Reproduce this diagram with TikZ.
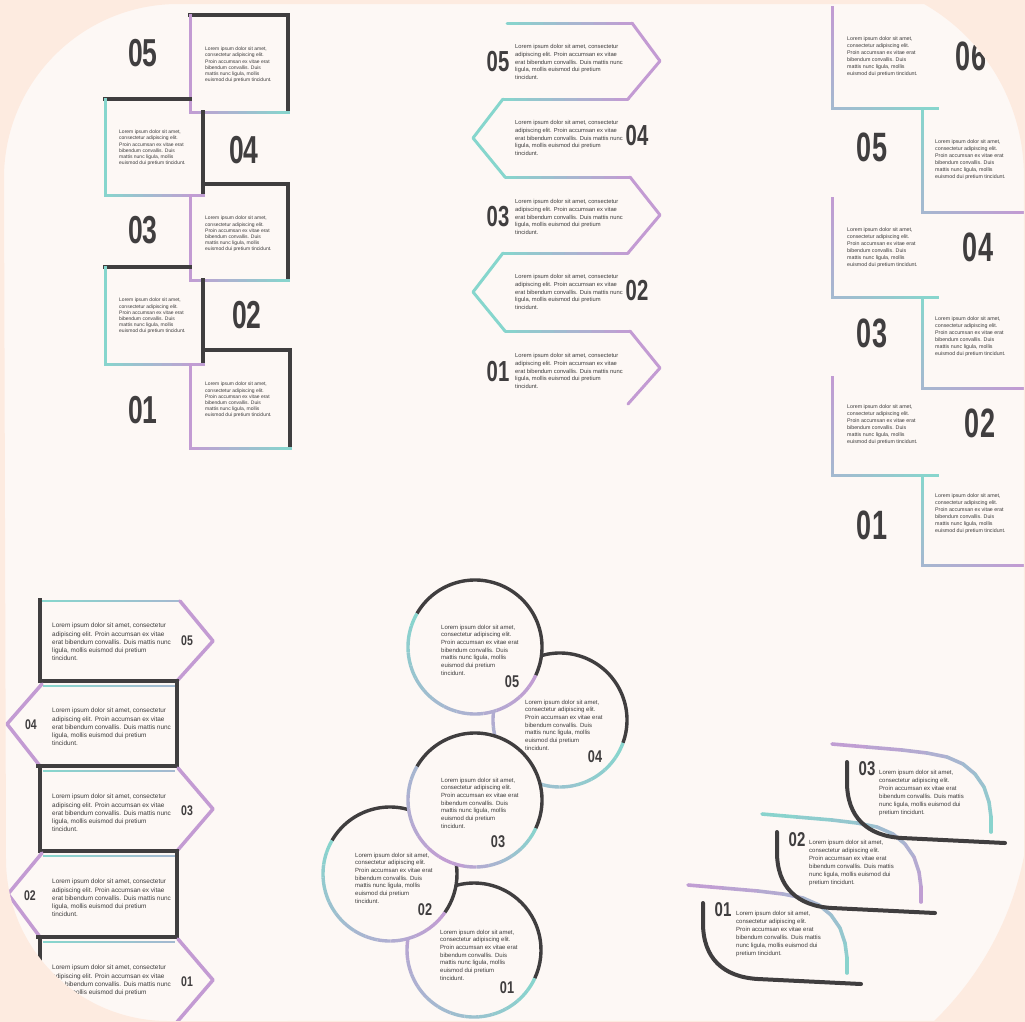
\documentclass[tikz,border=0pt]{standalone}
\usepackage{fontspec}
\setmainfont{Liberation Sans}
\usepackage{graphicx}
\usetikzlibrary{calc}
\definecolor{peach}{HTML}{FDEBE0}
\definecolor{cream}{HTML}{FDF8F5}
\definecolor{tea}{HTML}{86D6CD}
\definecolor{lil}{HTML}{C39BD3}
\definecolor{drk}{HTML}{403E3F}
\definecolor{txt}{HTML}{3C3B3B}
\colorlet{lav}{tea!50!lil}
\newcommand\bnum[3]{\scalebox{#2}[1]{\fontsize{#1}{#1}\selectfont\bfseries #3}}
% gradient straight segment: [opts]{A}{B}{colA}{colB}
\newcommand\gseg[5][]{%
  \foreach \gk in {0,...,9}{%
    \pgfmathsetmacro\gta{\gk/10}%
    \pgfmathsetmacro\gtb{(\gk+1)/10}%
    \pgfmathtruncatemacro\gtc{10*\gk+5}%
    \draw[#1,draw=#5!\gtc!#4] ($#2!\gta!#3$) -- ($#2!\gtb!#3$);%
  }}
% gradient arc: [opts]{center}{r}{a1}{a2}{colA}{colB}{N}
\newcommand\garc[8][]{%
  \foreach \gk in {1,...,#8}{%
    \pgfmathsetmacro\gaa{#4+(\gk-1)*(#5-(#4))/#8}%
    \pgfmathsetmacro\gab{#4+\gk*(#5-(#4))/#8}%
    \pgfmathtruncatemacro\gac{100*(\gk-0.5)/#8}%
    \draw[#1,draw=#7!\gac!#6] ($#2+(\gaa:#3)$) arc[start angle=\gaa,end angle=\gab,radius=#3];%
  }}
\newcommand\swtop[4]{%
  \begin{scope}[shift={(#1,-#2)}]
  \foreach \ax/\ay/\bx/\by/\sk in {-15/18/20/15/0,20/15/55/12/1,55/12/80/9/2,80/9/100/5/3,100/5/116/-2/4,116/-2/128/-12/5,128/-12/137/-25/6,137/-25/142/-40/7,142/-40/144/-55/8,144/-55/144/-70/9}{%
    \pgfmathtruncatemacro\swk{10*\sk+5}%
    \draw[swc,draw=#4!\swk!#3] (\ax,\ay) -- (\bx,\by);}
  \end{scope}}
\newcommand\swdark[2]{\draw[swd,shift={(#1,-#2)}] (0,0) -- (0,-20) .. controls (0,-55) and (20,-74) .. (55,-76) -- (158,-81);}
\def\loremA{Lorem ipsum dolor sit amet,\\consectetur adipiscing elit.\\Proin accumsan ex vitae erat\\bibendum convallis. Duis\\mattis nunc ligula, mollis\\euismod dui pretium tincidunt.}
\def\loremB{Lorem ipsum dolor sit amet, consectetur\\adipiscing elit. Proin accumsan ex vitae\\erat bibendum convallis. Duis mattis nunc\\ligula, mollis euismod dui pretium\\tincidunt.}
\def\loremE{Lorem ipsum dolor sit amet,\\consectetur adipiscing elit.\\Proin accumsan ex vitae erat\\bibendum convallis. Duis\\mattis nunc ligula, mollis\\euismod dui pretium\\tincidunt.}
\def\loremF{Lorem ipsum dolor sit amet,\\consectetur adipiscing elit.\\Proin accumsan ex vitae erat\\bibendum convallis. Duis mattis\\nunc ligula, mollis euismod dui\\pretium tincidunt.}
\begin{document}
\begin{tikzpicture}[x=1pt,y=1pt,
  dkA/.style={line width=3.6,draw=drk,line cap=rect,line join=miter},
  lA/.style={line width=3,line cap=rect},
  lB/.style={line width=3,line cap=round,line join=round},
  lC/.style={line width=3,line cap=rect},
  dkD/.style={line width=4.5,draw=drk,line cap=rect,line join=miter},
  tD/.style={line width=2.5},
  pD/.style={line width=3.5,draw=lil,line cap=round,line join=round},
  circ/.style={line width=3.4},
  swc/.style={line width=3.6,line cap=round},
  swd/.style={line width=4,draw=drk,line cap=round},
  num/.style={text=drk,inner sep=0},
  txA/.style={font=\fontsize{5}{6.2}\selectfont,align=left,anchor=west,inner sep=0,text=txt},
  txB/.style={font=\fontsize{5.8}{7.6}\selectfont,align=left,anchor=west,inner sep=0,text=txt},
  txC/.style={font=\fontsize{5.3}{7}\selectfont,align=left,anchor=west,inner sep=0,text=txt},
  txD/.style={font=\fontsize{6.4}{8.2}\selectfont,align=left,anchor=west,inner sep=0,text=txt},
  txE/.style={font=\fontsize{6}{7.7}\selectfont,align=left,anchor=west,inner sep=0,text=txt},
  txF/.style={font=\fontsize{6}{8}\selectfont,align=left,anchor=west,inner sep=0,text=txt}]
\useasboundingbox (0,0) rectangle (1025,-1021);
\fill[cream] (0,0) rectangle (1025,-1021);

% ================= Panel A (top left) =================
\draw[dkA] (190,-15) -- (288,-15) -- (288,-112);
\draw[lA,draw=lil] (190,-15) -- (190,-112);
\gseg[lA]{(190,-112)}{(288,-112)}{lil}{tea}
\draw[dkA] (105,-99) -- (190,-99);
\draw[dkA] (203,-112) -- (203,-195);
\draw[lA,draw=tea] (105,-99) -- (105,-195);
\gseg[lA]{(105,-195)}{(203,-195)}{tea}{lil}
\draw[dkA] (203,-184) -- (288,-184) -- (288,-280);
\draw[lA,draw=lil] (190,-195) -- (190,-280);
\gseg[lA]{(190,-280)}{(288,-280)}{lil}{tea}
\draw[dkA] (105,-267) -- (190,-267);
\draw[dkA] (203,-280) -- (203,-364);
\draw[lA,draw=tea] (105,-267) -- (105,-364);
\gseg[lA]{(105,-364)}{(203,-364)}{tea}{lil}
\draw[dkA] (203,-350) -- (290,-350) -- (290,-448);
\draw[lA,draw=lil] (190,-364) -- (190,-448);
\gseg[lA]{(190,-448)}{(290,-448)}{lil}{tea}
\node[num] (nA5) at (143,-53) {\bnum{39}{0.68}{05}};
\node[num] (nA4) at (244,-150) {\bnum{39}{0.68}{04}};
\node[num] (nA3) at (143,-230) {\bnum{39}{0.68}{03}};
\node[num] (nA2) at (247,-315) {\bnum{39}{0.68}{02}};
\node[num] (nA1) at (143,-410) {\bnum{39}{0.68}{01}};
\node[txA] (tA5) at (205,-65) {\loremA};
\node[txA] (tA4) at (119,-148) {\loremA};
\node[txA] (tA3) at (205,-234) {\loremA};
\node[txA] (tA2) at (119,-316) {\loremA};
\node[txA] (tA1) at (205,-400) {\loremA};

% ================= Panel B (top middle) =================
\foreach \xa/\xb/\yy in {507/632/23,503/628/99,505/630/177,503/628/253,505/630/331}{%
  \gseg[lB]{(\xa,-\yy)}{(\xb,-\yy)}{tea}{lil}}
\draw[lB,draw=lil] (632,-23) -- (660,-61) -- (628,-99);
\draw[lB,draw=lil] (630,-177) -- (660,-215) -- (628,-253);
\draw[lB,draw=lil] (630,-331) -- (660,-368) -- (628,-404);
\draw[lB,draw=tea] (503,-99) -- (473,-138) -- (505,-177);
\draw[lB,draw=tea] (503,-253) -- (473,-292) -- (505,-331);
\node[num] (nB5) at (498,-62) {\bnum{29}{0.7}{05}};
\node[num] (nB4) at (637,-136) {\bnum{29}{0.7}{04}};
\node[num] (nB3) at (498,-217) {\bnum{29}{0.7}{03}};
\node[num] (nB2) at (637,-291) {\bnum{29}{0.7}{02}};
\node[num] (nB1) at (498,-372) {\bnum{29}{0.7}{01}};
\node[txB] (tB5) at (515,-62) {\loremB};
\node[txB] (tB4) at (515,-138) {\loremB};
\node[txB] (tB3) at (515,-217) {\loremB};
\node[txB] (tB2) at (515,-292) {\loremB};
\node[txB] (tB1) at (515,-371) {\loremB};

% ================= Panel C (top right) =================
\foreach \ta/\tb in {7/108,198/297,377/475}{%
  \gseg[lC]{(832,-\ta)}{(832,-\tb)}{lil}{lav}
  \gseg[lC]{(832,-\tb)}{(937,-\tb)}{lav}{tea}}
\foreach \ta/\tb in {108/212,297/388,475/565}{%
  \gseg[lC]{(922,-\ta)}{(922,-\tb)}{tea}{lav}
  \gseg[lC]{(922,-\tb)}{(1025,-\tb)}{lav}{lil}}
\node[num] (nC6) at (971,-56) {\bnum{41}{0.66}{06}};
\node[num] (nC5) at (872,-147) {\bnum{41}{0.66}{05}};
\node[num] (nC4) at (978,-247) {\bnum{41}{0.66}{04}};
\node[num] (nC3) at (872,-333) {\bnum{41}{0.66}{03}};
\node[num] (nC2) at (980,-423) {\bnum{41}{0.66}{02}};
\node[num] (nC1) at (872,-525) {\bnum{41}{0.66}{01}};
\node[txC] (tC6) at (847,-57) {\loremA};
\node[txC] (tC5) at (935,-160) {\loremA};
\node[txC] (tC4) at (847,-248) {\loremA};
\node[txC] (tC3) at (935,-337) {\loremA};
\node[txC] (tC2) at (847,-425) {\loremA};
\node[txC] (tC1) at (935,-514) {\loremA};

% ================= Panel D (bottom left) =================
% box 05 (right arrow)
\gseg[tD]{(42,-601)}{(180,-601)}{tea}{lav}
\draw[pD] (180,-601) -- (213,-641) -- (177,-681);
\draw[dkD] (40,-600) -- (40,-681) -- (177,-681);
% box 04 (left arrow)
\gseg[tD]{(43,-686)}{(175,-686)}{tea}{lav}
\draw[pD] (42,-684) -- (7,-724) -- (40,-766);
\draw[dkD] (177,-681) -- (177,-766) -- (38,-766);
% box 03 (right arrow)
\gseg[tD]{(43,-771)}{(175,-771)}{tea}{lav}
\draw[pD] (178,-768) -- (213,-809) -- (177,-851);
\draw[dkD] (40,-766) -- (40,-851) -- (177,-851);
% box 02 (left arrow)
\gseg[tD]{(43,-856)}{(175,-856)}{tea}{lav}
\draw[pD] (42,-853) -- (8,-894) -- (40,-937);
\draw[dkD] (177,-851) -- (177,-937) -- (38,-937);
% box 01 (right arrow)
\gseg[tD]{(43,-942)}{(175,-942)}{tea}{lav}
\draw[pD] (178,-939) -- (213,-980) -- (177,-1022);
\draw[dkD] (40,-937) -- (40,-1022);
\node[num] (nD5) at (187,-641) {\bnum{14}{0.75}{05}};
\node[num] (nD4) at (31,-725) {\bnum{14}{0.75}{04}};
\node[num] (nD3) at (187,-811) {\bnum{14}{0.75}{03}};
\node[num] (nD2) at (30,-896) {\bnum{14}{0.75}{02}};
\node[num] (nD1) at (187,-982) {\bnum{14}{0.75}{01}};
\node[txD] (tD5) at (52,-642) {\loremB};
\node[txD] (tD4) at (52,-727) {\loremB};
\node[txD] (tD3) at (52,-813) {\loremB};
\node[txD] (tD2) at (52,-898) {\loremB};
\node[txD] (tD1) at (52,-984) {\loremB};

% ================= Panel E (circles) =================
\coordinate (c01) at (474,-950);
\coordinate (c02) at (390,-874);
\coordinate (c03) at (475,-800);
\coordinate (c04) at (560,-720);
\coordinate (c05) at (475,-647);
% 01
\fill[cream] (c01) circle[radius=67];
\draw[circ,draw=drk] ($(c01)+(140:67)$) arc[start angle=140,end angle=-25,radius=67];
\garc[circ]{(c01)}{67}{-25}{-220}{tea}{lil}{16}
% 02
\fill[cream] (c02) circle[radius=67];
\draw[circ,draw=drk] ($(c02)+(150:67)$) arc[start angle=150,end angle=-35,radius=67];
\garc[circ]{(c02)}{67}{-35}{-210}{lil}{tea}{16}
% 04
\fill[cream] (c04) circle[radius=67];
\draw[circ,draw=drk] ($(c04)+(115:67)$) arc[start angle=115,end angle=-20,radius=67];
\garc[circ]{(c04)}{67}{-20}{-245}{tea}{lil}{16}
% 03
\fill[cream] (c03) circle[radius=67];
\draw[circ,draw=drk] ($(c03)+(150:67)$) arc[start angle=150,end angle=-25,radius=67];
\garc[circ]{(c03)}{67}{-25}{-110}{tea}{lil}{8}
\garc[circ]{(c03)}{67}{-110}{-210}{lil}{lav}{8}
% 05
\fill[cream] (c05) circle[radius=67];
\draw[circ,draw=drk] ($(c05)+(150:67)$) arc[start angle=150,end angle=-25,radius=67];
\garc[circ]{(c05)}{67}{-25}{-210}{lil}{tea}{16}
\node[num] (nE5) at (512,-682) {\bnum{17}{0.75}{05}};
\node[num] (nE4) at (595,-757) {\bnum{17}{0.75}{04}};
\node[num] (nE3) at (498,-842) {\bnum{17}{0.75}{03}};
\node[num] (nE2) at (425,-910) {\bnum{17}{0.75}{02}};
\node[num] (nE1) at (507,-988) {\bnum{17}{0.75}{01}};
\node[txE] (tE5) at (441,-650) {\loremE};
\node[txE] (tE4) at (525,-725) {\loremE};
\node[txE] (tE3) at (441,-803) {\loremE};
\node[txE] (tE2) at (355,-878) {\loremE};
\node[txE] (tE1) at (440,-955) {\loremE};

% ================= Panel F (swooshes) =================
\swtop{847}{762}{lil}{tea}
\swtop{777}{832}{tea}{lil}
\swtop{703}{903}{lil}{tea}
\swdark{847}{762}
\swdark{777}{832}
\swdark{703}{903}
\node[num] (nF3) at (867,-769) {\bnum{20}{0.75}{03}};
\node[num] (nF2) at (797,-840) {\bnum{20}{0.75}{02}};
\node[num] (nF1) at (723,-910) {\bnum{20}{0.75}{01}};
\node[txF] (tF3) at (879,-793) {\loremF};
\node[txF] (tF2) at (809,-863) {\loremF};
\node[txF] (tF1) at (736,-934) {\loremF};

% ================= Frame overlay =================
\fill[peach,even odd rule] (-1,1) rectangle (1026,-1022)
  (4,-178) arc[start angle=180,end angle=90,radius=174] -- (924,-4)
  arc[start angle=60.3,end angle=0,radius=198] -- (1024,-856)
  arc[start angle=-11.2,end angle=-46,radius=314] -- (168,-1021)
  arc[start angle=-90,end angle=-180,radius=162] -- cycle;
\end{tikzpicture}
\end{document}
